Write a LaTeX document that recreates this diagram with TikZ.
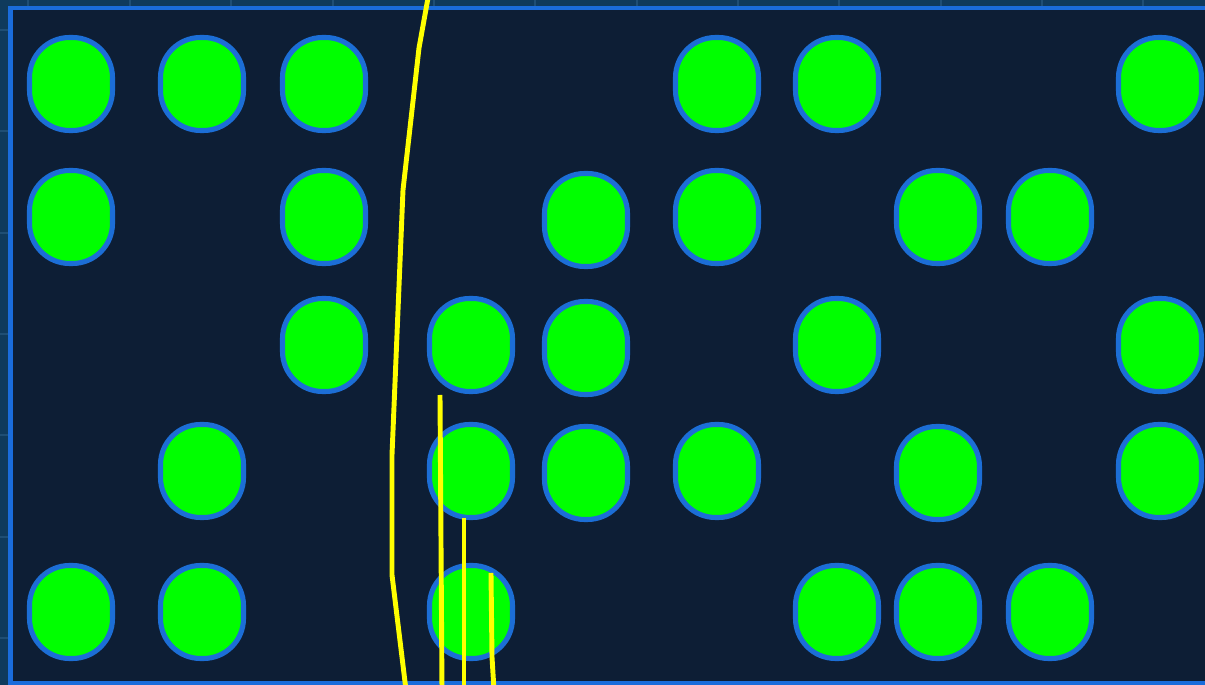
\documentclass[tikz,border=0pt]{standalone}
\usepackage{xcolor}
\usepackage{tikz}
\usetikzlibrary{positioning, calc}

\definecolor{panel}{HTML}{0D1E35}
\definecolor{strip}{HTML}{0F3A5C}
\definecolor{gridline}{HTML}{1F4E74}
\definecolor{frameblue}{HTML}{1A6CDB}
\definecolor{chipgreen}{HTML}{00FF00}
\definecolor{chipblue}{HTML}{1C6ED6}
\definecolor{trace}{HTML}{FFFF00}

\begin{document}
\begin{tikzpicture}[
		x=0.02cm, y=-0.02cm,
		chip/.style={draw=chipblue, fill=chipgreen, line width=2.9pt, rounded corners=0.8cm,
			minimum width=1.66cm, minimum height=1.86cm, inner sep=0pt},
		frame/.style={draw=frameblue, line width=2.6pt},
		gridl/.style={draw=gridline, line width=0.9pt},
		wire/.style={draw=trace, line width=2.8pt}
		]
		\useasboundingbox (0,0) rectangle (1205,685);
		
		% Fondo
		\fill[strip] (0,0) rectangle (1205,685);
		\draw[gridl] (28,0) -- (28,10) (130,0) -- (130,10) (231,0) -- (231,10) (333,0) -- (333,10)
			(434,0) -- (434,10) (535,0) -- (535,10) (637,0) -- (637,10) (738,0) -- (738,10)
			(839,0) -- (839,10) (941,0) -- (941,10) (1042,0) -- (1042,10) (1143,0) -- (1143,10);
		\draw[gridl] (0,30) -- (10,30) (0,131) -- (10,131) (0,233) -- (10,233) (0,334) -- (10,334)
			(0,435) -- (10,435) (0,537) -- (10,537) (0,638) -- (10,638);
		\fill[panel] (10.5,8) rectangle (1215,683);
		\draw[frame] (1215,8) -- (10.5,8) -- (10.5,683) -- (1215,683);
		
		% Fila 1
		\node[chip] (r1c1) at (71,84) {};
		\node[chip] (r1c2) at (202,84) {};
		\node[chip] (r1c3) at (324,84) {};
		\node[chip] (r1c6) at (717,84) {};
		\node[chip] (r1c7) at (837,84) {};
		\node[chip] (r1c10) at (1160,84) {};
		
		% Fila 2
		\node[chip] (r2c1) at (71,217) {};
		\node[chip] (r2c3) at (324,217) {};
		\node[chip] (r2c5) at (586,220) {};
		\node[chip] (r2c6) at (717,217) {};
		\node[chip] (r2c8) at (938,217) {};
		\node[chip] (r2c9) at (1050,217) {};
		
		% Fila 3
		\node[chip] (r3c3) at (324,345) {};
		\node[chip] (r3c4) at (471,345) {};
		\node[chip] (r3c5) at (586,348) {};
		\node[chip] (r3c7) at (837,345) {};
		\node[chip] (r3c10) at (1160,345) {};
		
		% Fila 4
		\node[chip] (r4c2) at (202,471) {};
		\node[chip] (r4c4) at (471,471) {};
		\node[chip] (r4c5) at (586,473) {};
		\node[chip] (r4c6) at (717,471) {};
		\node[chip] (r4c8) at (938,473) {};
		\node[chip] (r4c10) at (1160,471) {};
		
		% Fila 5
		\node[chip] (r5c1) at (71,612) {};
		\node[chip] (r5c2) at (202,612) {};
		\node[chip] (r5c4) at (471,612) {};
		\node[chip] (r5c7) at (837,612) {};
		\node[chip] (r5c8) at (938,612) {};
		\node[chip] (r5c9) at (1050,612) {};
		
		% Lineas amarillas
		\coordinate (a0) at (428,-2);
		\coordinate (a1) at (419,48);
		\coordinate (a2) at (403,190);
		\coordinate (a3) at (392,455);
		\coordinate (a4) at (392,575);
		\coordinate (a5) at (406,690);
		\draw[wire] (a0) -- (a1) -- (a2) -- (a3) -- (a4) -- (a5);
		
		\coordinate (b0) at (440,395);
		\coordinate (b1) at (442,690);
		\draw[wire] (b0) -- (b1);
		
		\coordinate (c0) at (464,518);
		\coordinate (c1) at (464,690);
		\draw[wire] (c0) -- (c1);
		
		\coordinate (d0) at (491,573);
		\coordinate (d1) at (492,657);
		\coordinate (d2) at (494,690);
		\draw[wire] (d0) -- (d1) -- (d2);
	\end{tikzpicture}
\end{document}
